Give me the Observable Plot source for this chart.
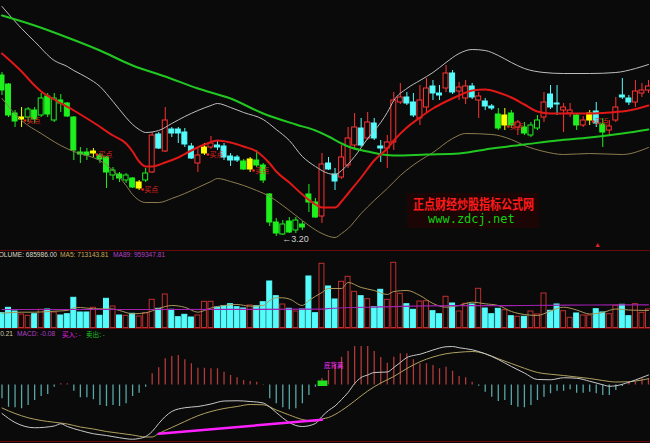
<!DOCTYPE html>
<html><head><meta charset="utf-8">
<script src="https://cdn.jsdelivr.net/npm/d3@7"></script>
<script src="https://cdn.jsdelivr.net/npm/@observablehq/plot@0.6"></script>
<style>
html,body{margin:0;padding:0;background:#0a0a0a;}
#wrap{position:relative;width:650px;height:443px;overflow:hidden;background:#0a0a0a;font-family:"Liberation Sans",Arial,sans-serif;}
.panel{position:absolute;left:0;}
.t{position:absolute;white-space:nowrap;font-size:6.6px;line-height:8px;}
.sep{position:absolute;left:0;width:650px;height:1px;background:#6a0808;}
</style></head>
<body>
<div id="wrap">
  <div id="p1" class="panel" style="top:0"></div>
  <div id="p2" class="panel" style="top:250px"></div>
  <div id="p3" class="panel" style="top:329px"></div>
  <div class="sep" style="top:250px"></div>
  <div class="sep" style="top:328px"></div>
  <div class="sep" style="top:441px"></div>
  <span class="t" style="top:250.5px;right:593px;color:#dcdcc8">VOLUME: 685986.00</span>
  <span class="t" style="top:250.5px;left:60px;color:#c8a858">MA5: 713143.81</span>
  <span class="t" style="top:250.5px;left:113px;color:#b040c0">MA89: 959347.81</span>
  <span class="t" style="top:329.5px;right:637px;color:#d0c8a0">DEA: 0.21</span>
  <span class="t" style="top:329.5px;left:17px;color:#b040c0">MACD: -0.08</span>
  <span class="t" style="top:329.5px;left:62px;color:#e020e0;font-family:'Noto Sans CJK SC'">买入: -</span>
  <span class="t" style="top:329.5px;left:86px;color:#20c020;font-family:'Noto Sans CJK SC'">卖出: -</span>
  <div style="position:absolute;left:407px;top:193px;width:132px;height:35px;background:#1c0505;"></div>
  <span style="position:absolute;left:413px;top:196px;white-space:nowrap;font-family:'Noto Sans CJK SC';font-weight:bold;font-size:11px;line-height:12px;color:#ff1a1a;transform:scale(1,1.2);transform-origin:0 0">正点财经炒股指标公式网</span>
  <span style="position:absolute;left:428px;top:211.5px;white-space:nowrap;font-family:'DejaVu Sans Mono';font-size:12px;line-height:14px;color:#10d010">www.zdcj.net</span>
  <span style="position:absolute;left:594px;top:241px;font-size:7px;line-height:8px;color:#e02020">▲</span>
</div>
<script>
// ---- price data (per trading day) ----
const open = [4.81,4.72,4.43,4.37,4.39,4.46,4.41,4.60,4.36,4.56,
4.53,4.39,4.04,4.04,4.03,4.01,3.99,3.81,3.82,3.76,
3.78,3.68,3.76,3.84,4.22,4.05,4.27,4.27,4.24,4.10,
3.93,4.03,4.09,4.11,4.10,4.00,3.99,3.95,3.87,3.96,
3.91,3.62,3.34,3.22,3.35,3.26,3.32,3.62,3.54,3.40,
3.93,3.82,3.79,3.91,4.11,4.28,4.18,4.33,4.10,4.08,
4.14,4.54,4.59,4.54,4.38,4.49,4.70,4.63,4.68,4.83,
4.65,4.58,4.70,4.56,4.55,4.50,4.42,4.31,4.43,4.29,
4.29,4.21,4.28,4.39,4.62,4.53,4.46,4.43,4.41,4.31,
4.36,4.45,4.32,4.26,4.36,4.61,4.58,4.54,4.63,4.66];
const close = [4.66,4.41,4.35,4.39,4.47,4.37,4.58,4.42,4.58,4.53,
4.40,4.06,4.02,4.01,4.05,3.97,3.84,3.86,3.78,3.81,
3.69,3.74,3.83,4.21,4.08,4.36,4.23,4.23,4.12,3.98,
4.01,4.09,4.13,4.09,3.99,3.96,3.96,3.87,3.97,3.91,
3.76,3.34,3.23,3.32,3.24,3.36,3.29,3.54,3.39,3.92,
3.87,3.75,3.99,4.18,4.29,4.11,4.34,4.18,4.08,4.14,
4.56,4.59,4.53,4.41,4.56,4.68,4.63,4.61,4.83,4.64,
4.69,4.70,4.59,4.60,4.50,4.48,4.28,4.41,4.31,4.34,
4.23,4.31,4.36,4.54,4.49,4.52,4.49,4.46,4.31,4.36,
4.43,4.33,4.24,4.30,4.49,4.59,4.54,4.65,4.66,4.70];
const high = [4.84,4.73,4.46,4.49,4.49,4.49,4.63,4.63,4.63,4.62,
4.54,4.40,4.09,4.08,4.08,4.03,4.00,3.89,3.84,3.83,
3.79,3.76,3.88,4.24,4.24,4.49,4.29,4.29,4.28,4.13,
4.09,4.13,4.20,4.16,4.13,4.03,4.01,3.97,3.99,4.06,
3.93,3.63,3.38,3.36,3.39,3.39,3.35,3.72,3.58,4.03,
3.99,3.88,4.11,4.29,4.43,4.38,4.44,4.38,4.16,4.21,
4.64,4.73,4.64,4.63,4.71,4.78,4.76,4.71,4.91,4.86,
4.74,4.76,4.73,4.64,4.58,4.52,4.48,4.48,4.46,4.36,
4.34,4.34,4.41,4.64,4.71,4.71,4.53,4.53,4.43,4.40,
4.46,4.54,4.38,4.36,4.59,4.78,4.61,4.76,4.73,4.76];
const low = [4.61,4.39,4.29,4.29,4.34,4.33,4.39,4.39,4.34,4.44,
4.39,3.96,3.93,3.96,3.99,3.93,3.68,3.76,3.74,3.73,
3.68,3.66,3.74,3.83,4.07,4.04,4.19,4.13,4.09,3.97,
3.84,4.01,4.07,4.06,3.96,3.90,3.94,3.86,3.84,3.89,
3.73,3.30,3.20,3.21,3.23,3.23,3.26,3.44,3.38,3.33,
3.86,3.66,3.77,3.88,4.08,4.09,4.16,4.16,3.94,3.88,
4.06,4.52,4.51,4.39,4.31,4.44,4.56,4.56,4.64,4.62,
4.56,4.52,4.57,4.38,4.46,4.46,4.26,4.26,4.28,4.21,
4.21,4.19,4.26,4.34,4.47,4.41,4.24,4.39,4.26,4.29,
4.31,4.29,4.09,4.20,4.34,4.57,4.51,4.49,4.59,4.63];
// indicator state per day: G = weak zone, Y = signal day, N = normal
const state = ("GGGYGGGGGG"+"GGGGYGGGGG"+"GYGNNNNNNN"+"NYNNNNNGYG"+"GGGGGGGGGN"+
               "NNNNNNNNNN"+"NNNNNNNNNN"+"NNNNNNGYGN"+"GGGNNNNNGN"+"YNGNNNNNNN").split("");
const signalText = "买点";
// volume, 10k shares
const volume = [54.8,74.7,61.1,50.0,45.1,51.1,67.3,68.5,57.4,46.3,
51.1,111.7,57.4,57.4,74.7,45.1,108.0,79.6,46.3,45.1,
52.5,42.6,54.8,104.3,71.0,124.0,67.3,40.0,48.8,38.9,
46.3,96.9,96.9,75.9,80.7,88.1,77.0,72.2,83.3,80.7,
95.5,172.1,117.7,87.0,71.0,61.1,68.5,190.6,54.8,237.5,
153.6,105.5,170.9,189.4,133.9,117.7,106.6,77.0,141.3,104.3,
241.2,126.5,88.1,67.3,98.1,99.2,62.2,51.1,115.4,90.7,
61.1,89.5,87.0,145.0,72.2,51.1,71.0,65.9,43.7,41.4,
41.4,61.1,50.0,127.7,63.6,87.0,62.2,37.7,53.7,46.3,
46.3,69.6,57.4,51.1,82.1,85.8,43.7,88.1,56.2,68.6];
// MACD histogram
const macd = [-0.055,-0.089,-0.091,-0.095,-0.082,-0.062,-0.046,-0.038,-0.009,0.005,
0.005,-0.025,-0.051,-0.051,-0.059,-0.082,-0.086,-0.082,-0.086,-0.075,
-0.046,-0.033,-0.009,0.045,0.069,0.105,0.114,0.118,0.101,0.085,
0.067,0.067,0.065,0.065,0.051,0.038,0.029,0.018,0.014,0.011,
0.002,-0.055,-0.075,-0.091,-0.099,-0.095,-0.075,-0.042,-0.009,0.026,
0.058,0.082,0.111,0.134,0.154,0.154,0.154,0.134,0.110,0.087,
0.111,0.125,0.125,0.101,0.085,0.085,0.078,0.065,0.071,0.055,
0.034,0.029,0.011,-0.005,-0.029,-0.049,-0.066,-0.062,-0.082,-0.089,
-0.091,-0.082,-0.062,-0.049,-0.035,-0.025,-0.025,-0.019,-0.033,-0.033,
-0.029,-0.035,-0.042,-0.042,-0.022,-0.006,0.011,0.011,0.025,0.026];
// overlay lines read as [day index, value]
const bandUpper = [[0,5.50],[3,5.28],[5,5.15],[8,4.96],[10,4.90],[11,4.86],[13,4.79],[15,4.70],[17,4.55],[19,4.39],[20,4.32],[21,4.27],[22,4.24],[24,4.26],[26,4.33],[28,4.40],[30,4.46],[32,4.51],[33,4.53],[35,4.49],[37,4.44],[40,4.37],[42,4.27],[44,4.16],[46,4.00],[48,3.90],[50,3.83],[51,3.82],[52,3.86],[54,4.00],[56,4.18],[58,4.34],[59,4.44],[60,4.56],[62,4.68],[64,4.76],[66,4.84],[68,4.94],[70,5.03],[72,5.07],[74,5.06],[76,5.01],[78,4.94],[80,4.88],[83,4.84],[86,4.83],[90,4.83],[94,4.84],[97,4.88],[99,4.92]];
const bandMid = [[0,5.03],[3,4.85],[5,4.71],[6,4.65],[8,4.57],[11,4.46],[14,4.34],[17,4.21],[19,4.13],[20,4.05],[21,3.95],[22,3.90],[23,3.90],[25,3.94],[27,3.99],[29,4.06],[31,4.12],[33,4.16],[35,4.14],[37,4.10],[39,4.05],[41,3.93],[42,3.85],[44,3.74],[46,3.62],[48,3.52],[49,3.49],[51,3.49],[52,3.55],[53,3.63],[55,3.79],[57,3.96],[59,4.08],[60,4.16],[62,4.29],[64,4.39],[66,4.48],[68,4.55],[70,4.61],[72,4.66],[74,4.67],[76,4.64],[78,4.59],[80,4.52],[82,4.45],[84,4.43],[87,4.43],[90,4.43],[93,4.44],[96,4.46],[99,4.51]];
const bandLower = [[0,4.58],[3,4.36],[6,4.23],[9,4.11],[11,4.05],[13,4.01],[15,3.96],[17,3.86],[19,3.71],[20,3.62],[22,3.54],[24,3.54],[26,3.58],[28,3.63],[30,3.69],[32,3.75],[33,3.78],[35,3.75],[37,3.71],[39,3.66],[41,3.60],[43,3.51],[45,3.41],[47,3.31],[49,3.23],[51,3.19],[52,3.23],[53,3.28],[55,3.43],[57,3.56],[59,3.68],[61,3.81],[64,3.96],[66,4.04],[69,4.18],[71,4.23],[75,4.22],[78,4.17],[80,4.11],[83,4.05],[86,4.02],[90,4.03],[95,4.02],[99,4.09]];
const maLong = [[0,5.41],[5,5.31],[10,5.19],[15,5.06],[20,4.91],[25,4.80],[30,4.68],[35,4.58],[40,4.43],[45,4.32],[48,4.26],[50,4.20],[52,4.13],[53,4.10],[56,4.05],[60,4.01],[65,4.02],[70,4.03],[75,4.08],[80,4.12],[85,4.16],[90,4.19],[95,4.23],[99,4.27]];
const volMa5 = [[0,54.8],[3,58.5],[5,58.5],[8,62.2],[10,64.8],[11,74.0],[12,75.9],[14,71.0],[17,70.3],[18,64.8],[20,52.5],[22,56.2],[24,72.2],[26,83.3],[28,76.6],[30,58.5],[32,74.0],[34,83.3],[36,87.0],[38,80.7],[40,83.3],[41,101.8],[42,111.7],[43,111.7],[44,107.3],[46,83.3],[47,101.8],[49,131.4],[50,146.2],[52,146.2],[53,168.4],[55,149.9],[57,138.8],[59,124.0],[60,135.1],[62,138.8],[64,120.3],[66,90.7],[68,77.0],[70,83.3],[72,95.5],[74,89.5],[76,83.3],[78,61.1],[80,50.0],[82,46.3],[84,62.9],[86,77.0],[88,66.6],[90,51.8],[92,57.4],[94,70.3],[96,66.6],[99,64.8]];
const volMa89 = [[0,68.5],[25,68.5],[49,69.5],[50,72.2],[58,78.0],[65,82.0],[80,83.3],[90,85.1],[99,85.8]];
const dif = [[0,-0.114],[2,-0.150],[5,-0.171],[8,-0.164],[9,-0.155],[10,-0.166],[12,-0.182],[14,-0.195],[16,-0.202],[18,-0.211],[20,-0.217],[21,-0.214],[22,-0.206],[23,-0.186],[24,-0.154],[25,-0.126],[26,-0.106],[28,-0.091],[30,-0.086],[32,-0.076],[34,-0.064],[36,-0.063],[38,-0.066],[40,-0.072],[41,-0.088],[42,-0.110],[44,-0.150],[45,-0.162],[46,-0.166],[48,-0.154],[49,-0.126],[50,-0.102],[51,-0.084],[52,-0.058],[53,-0.030],[54,0.006],[55,0.030],[56,0.040],[57,0.050],[58,0.051],[59,0.052],[60,0.070],[61,0.090],[62,0.110],[63,0.118],[64,0.123],[66,0.140],[68,0.153],[69,0.154],[70,0.149],[72,0.141],[74,0.125],[76,0.102],[78,0.074],[80,0.048],[82,0.022],[84,0.021],[86,0.029],[88,0.027],[90,0.015],[92,0.001],[93,-0.005],[94,-0.003],[96,0.011],[98,0.030],[99,0.040]];
const dea = [[0,-0.092],[2,-0.114],[4,-0.131],[6,-0.142],[8,-0.149],[10,-0.156],[12,-0.168],[14,-0.176],[16,-0.186],[18,-0.193],[20,-0.200],[22,-0.208],[23,-0.208],[24,-0.194],[26,-0.170],[28,-0.146],[30,-0.123],[32,-0.106],[34,-0.094],[36,-0.086],[38,-0.078],[40,-0.079],[42,-0.100],[44,-0.120],[46,-0.138],[48,-0.144],[49,-0.136],[50,-0.130],[52,-0.102],[54,-0.064],[56,-0.024],[58,0.008],[60,0.034],[62,0.066],[64,0.093],[66,0.112],[68,0.125],[70,0.131],[72,0.134],[74,0.125],[76,0.105],[78,0.086],[80,0.067],[82,0.050],[84,0.043],[86,0.038],[88,0.032],[90,0.026],[92,0.018],[94,0.012],[96,0.013],[98,0.020],[99,0.025]];
const divergence = [[24,-0.195],[49,-0.139]];
const divergenceLabel = [{i:49.3, v:0.078, text:"底背离"}];
const crossMark = [{i1:48.4, i2:49.9, v1:-0.006, v2:0.016}];

const bg = "#0a0a0a";
const N = open.length;
const bars = d3.range(N).map(i => ({i, o:open[i], c:close[i], h:high[i], l:low[i], v:volume[i], m:macd[i], s:state[i], up: close[i] >= open[i]}));
const colorOf = d => d.s === "Y" ? "#ffff00" : d.s === "G" ? "#1ef01e" : d.up ? "#ff3232" : "#54fcfc";
const filled = d => d.s === "Y" || !d.up;
const xs = {domain:[-0.2297, 99.31], axis:null};
const W = 0.38;
const fx = d => d[0], fy = d => d[1];
const common = {width:650, margin:0, x:xs, color:{type:"identity"}, style:{background:"transparent", overflow:"visible"}};
const minI = d3.minIndex(low);
const signals = bars.filter(d => d.s === "Y");

const p1 = Plot.plot({...common, height:250, y:{domain:[3.06,5.56], axis:null}, marks:[
  Plot.ruleX(bars.filter(filled), {x:"i", y1:"l", y2:"h", stroke:colorOf}),
  Plot.ruleX(bars.filter(d=>!filled(d)), {x:"i", y1:d=>Math.max(d.o,d.c), y2:"h", stroke:colorOf}),
  Plot.ruleX(bars.filter(d=>!filled(d)), {x:"i", y1:"l", y2:d=>Math.min(d.o,d.c), stroke:colorOf}),
  Plot.rect(bars, {x1:d=>d.i-W, x2:d=>d.i+W, y1:"o", y2:"c", fill:d=>filled(d)?colorOf(d):bg, stroke:colorOf, strokeWidth:1}),
  Plot.line(bandUpper, {x:fx, y:fy, stroke:"#bdbdbd", strokeWidth:1, curve:"monotone-x"}),
  Plot.line(bandLower, {x:fx, y:fy, stroke:"#8c7c50", strokeWidth:1, curve:"monotone-x"}),
  Plot.line(maLong, {x:fx, y:fy, stroke:"#22c822", strokeWidth:2, curve:"monotone-x"}),
  Plot.line(bandMid, {x:fx, y:fy, stroke:"#e01818", strokeWidth:2, curve:"monotone-x"}),
  Plot.dot(signals, {x:"i", y:"o", dx:3.5, dy:1, r:1.3, fill:"#ff2020", stroke:null}),
  Plot.text(signals, {x:"i", y:"o", text:()=>signalText, dx:5, dy:1, textAnchor:"start", fill:"#e02020", fontSize:7, fontFamily:"Noto Sans CJK SC"}),
  Plot.text([bars[minI]], {x:"i", y:"l", text:d=>"←"+d.l.toFixed(2), dx:6, dy:3, textAnchor:"start", fill:"#d0d0d0", fontSize:9, fontFamily:"Liberation Sans"})
]});
document.getElementById("p1").append(p1);

const p2 = Plot.plot({...common, height:79, y:{domain:[-5.55,286.75], axis:null}, marks:[
  Plot.rect(bars, {x1:d=>d.i-W, x2:d=>d.i+W, y1:0, y2:"v", fill:d=>d.up?bg:"#54fcfc", stroke:d=>d.up?"#c03030":"#54fcfc", strokeWidth:1}),
  Plot.line(volMa5, {x:fx, y:fy, stroke:"#a8965a", strokeWidth:1, curve:"monotone-x"}),
  Plot.line(volMa89, {x:fx, y:fy, stroke:"#a020b0", strokeWidth:1.2, curve:"monotone-x"})
]});
document.getElementById("p2").append(p2);

const p3 = Plot.plot({...common, height:114, y:{domain:[-0.234,0.222], axis:null}, marks:[
  Plot.ruleX(bars, {x:"i", y1:0, y2:"m", stroke:d=>d.m>=0?"#b03a3a":"#58a6a6", strokeWidth:1.3}),
  Plot.line(dea, {x:fx, y:fy, stroke:"#b0a060", strokeWidth:1, curve:"monotone-x"}),
  Plot.line(dif, {x:fx, y:fy, stroke:"#c8c8c8", strokeWidth:1, curve:"monotone-x"}),
  Plot.line(divergence, {x:fx, y:fy, stroke:"#ff20ff", strokeWidth:2.5}),
  Plot.rect(crossMark, {x1:"i1", x2:"i2", y1:"v1", y2:"v2", fill:"#20e020"}),
  Plot.text(divergenceLabel, {x:"i", y:"v", text:"text", textAnchor:"start", fill:"#ff30ff", fontSize:6.5, fontFamily:"Noto Sans CJK SC"})
]});
document.getElementById("p3").append(p3);
</script>
</body></html>
